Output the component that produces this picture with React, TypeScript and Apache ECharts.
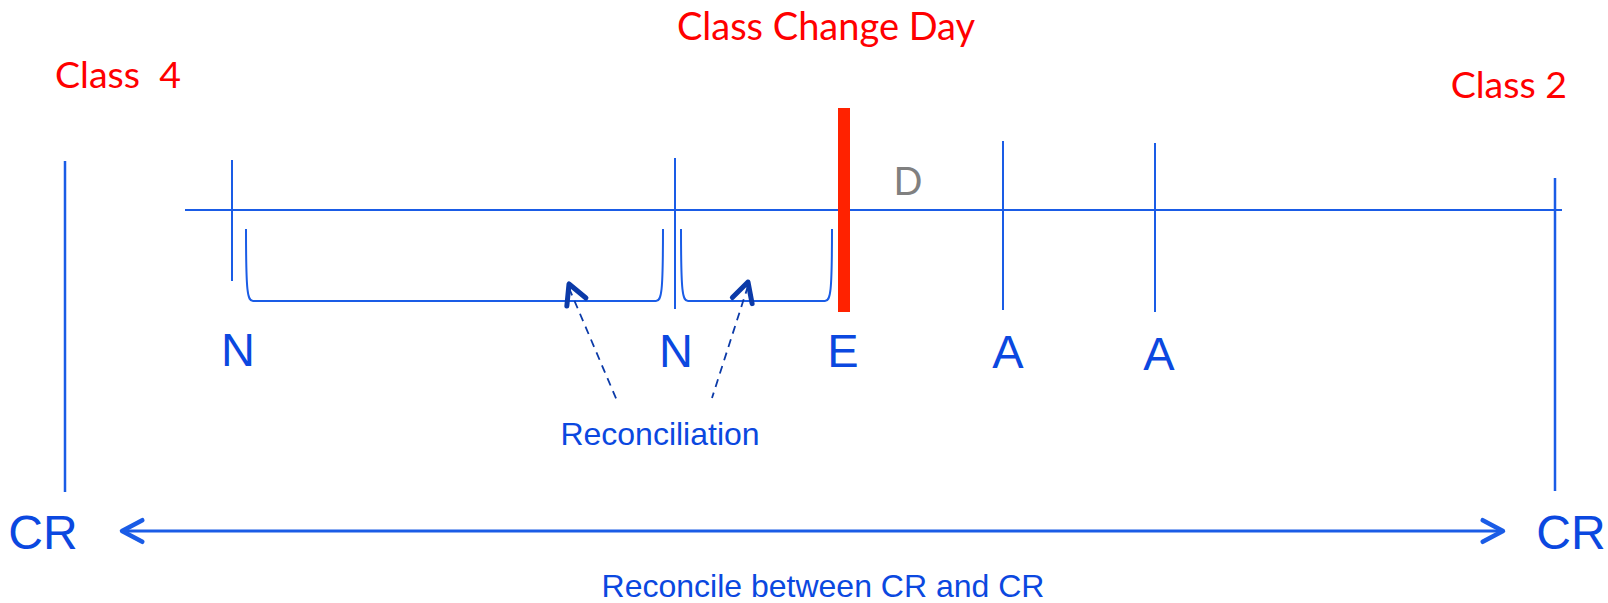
import React, { useEffect, useRef } from 'react';
import * as echarts from 'echarts';

// ---- Diagram data (diagram units = pixels of the 1608 x 603 canvas) ----
const canvasWidth = 1608;
const canvasHeight = 603;

// main timeline
const timelineX = [185, 1562];
const timelineY = [210, 210];

// thin event ticks (N, N, A, A)
const tickX = [232, 675, 1003, 1155];
const tickTop = [160, 158, 141, 143];
const tickBottom = [281, 309, 310, 312];

// class change day bar (E)
const changeDayX = [844];
const changeDayTop = [108];
const changeDayBottom = [312];

// event letters
const eventLabels = ['N', 'N', 'E', 'A', 'A'];
const eventLabelX = [238, 676, 843, 1008, 1159];
const eventLabelY = [349, 350, 350, 351, 353];

// CR boundaries
const boundaryX = [65, 1555];
const boundaryTop = [161, 178];
const boundaryBottom = [492, 491];
const boundaryLabels = ['CR', 'CR'];
const boundaryLabelX = [43, 1571];
const boundaryLabelY = [532, 532];

// reconciliation brackets
const bracketStart = [246, 681];
const bracketEnd = [663, 832];
const bracketTop = [229, 229];
const bracketBottom = [301, 301];

// reconciliation callout arrows
const calloutTipX = [569, 748];
const calloutTipY = [284, 282];
const calloutTailX = [618, 712];
const calloutTailY = [403, 398];

// span arrow between CR and CR
const spanArrowX = [122, 1503];
const spanArrowY = [531, 531];

// red titles
const titleLabels = ['Class Change Day', 'Class  4', 'Class 2'];
const titleX = [826, 55, 1567];
const titleY = [25, 73, 83];

// other annotations
const noteLabels = ['D', 'Reconciliation', 'Reconcile between CR and CR'];
const noteX = [908, 660, 823];
const noteY = [180, 434, 586];

const LINE_BLUE = '#1a5ce6';
const TEXT_BLUE = '#0b48e0';
const DARK_BLUE = '#0b3aa8';
const RED = '#ff0000';
const BAR_RED = '#ff2200';

function segmentItem(stroke: string, width: number, dash?: number[]) {
  return (params: any, api: any) => {
    const a = api.coord([api.value(0), api.value(1)]);
    const b = api.coord([api.value(2), api.value(3)]);
    return {
      type: 'line',
      shape: { x1: a[0], y1: a[1], x2: b[0], y2: b[1] },
      style: { stroke, lineWidth: width, lineDash: dash, lineCap: 'butt' },
      silent: true,
    };
  };
}

function textItem(
  labels: string[],
  fontFamily: string,
  fontSizes: number[],
  fill: string,
  aligns: string[]
) {
  return (params: any, api: any) => {
    const p = api.coord([api.value(0), api.value(1)]);
    const i = params.dataIndex;
    const fs = fontSizes[i] ?? fontSizes[0];
    return {
      type: 'text',
      x: p[0],
      y: p[1],
      style: {
        text: labels[i],
        fill,
        fontFamily,
        fontSize: fs,
        lineHeight: fs,
        align: aligns[i] ?? aligns[0],
        verticalAlign: 'middle',
      },
      silent: true,
    };
  };
}

function arrowHead(tip: number[], toward: number[], len: number, angDeg: number) {
  const dx = toward[0] - tip[0];
  const dy = toward[1] - tip[1];
  const base = Math.atan2(dy, dx);
  const a = (angDeg * Math.PI) / 180;
  return [
    [tip[0] + len * Math.cos(base - a), tip[1] + len * Math.sin(base - a)],
    [tip[0], tip[1]],
    [tip[0] + len * Math.cos(base + a), tip[1] + len * Math.sin(base + a)],
  ];
}

export default function App() {
  const ref = useRef<HTMLDivElement>(null);

  useEffect(() => {
    if (!ref.current) return;
    const chart = echarts.init(ref.current, undefined, { renderer: 'svg' });

    const segments = [
      [timelineX[0], timelineY[0], timelineX[1], timelineY[1]],
      ...tickX.map((x, i) => [x, tickTop[i], x, tickBottom[i]]),
    ];
    const boundaries = boundaryX.map((x, i) => [x, boundaryTop[i], x, boundaryBottom[i]]);
    const changeDay = changeDayX.map((x, i) => [x, changeDayTop[i], x, changeDayBottom[i]]);

    const option: any = {
      animation: false,
      backgroundColor: '#ffffff',
      grid: { left: 0, right: 0, top: 0, bottom: 0 },
      xAxis: { type: 'value', min: 0, max: canvasWidth, show: false },
      yAxis: { type: 'value', min: 0, max: canvasHeight, inverse: true, show: false },
      series: [
        {
          type: 'custom',
          name: 'timeline',
          data: segments,
          renderItem: segmentItem(LINE_BLUE, 2),
        },
        {
          type: 'custom',
          name: 'boundaries',
          data: boundaries,
          renderItem: segmentItem(LINE_BLUE, 2.5),
        },
        {
          type: 'custom',
          name: 'brackets',
          data: bracketStart.map((s, i) => [s, bracketTop[i], bracketEnd[i], bracketBottom[i]]),
          renderItem: (params: any, api: any) => {
            const a = api.coord([api.value(0), api.value(1)]);
            const b = api.coord([api.value(2), api.value(3)]);
            const lx = a[0], ty = a[1], rx = b[0], by = b[1];
            const d =
              `M${lx},${ty} C${lx},${by - 8} ${lx + 1.5},${by} ${lx + 7},${by} ` +
              `L${rx - 7},${by} C${rx - 1.5},${by} ${rx},${by - 8} ${rx},${ty}`;
            return {
              type: 'path',
              shape: { pathData: d },
              style: { fill: 'none', stroke: LINE_BLUE, lineWidth: 2 },
              silent: true,
            };
          },
        },
        {
          type: 'custom',
          name: 'changeDay',
          data: changeDay,
          renderItem: segmentItem(BAR_RED, 12),
        },
        {
          type: 'custom',
          name: 'callouts',
          data: calloutTipX.map((x, i) => [x, calloutTipY[i], calloutTailX[i], calloutTailY[i]]),
          renderItem: (params: any, api: any) => {
            const tip = api.coord([api.value(0), api.value(1)]);
            const tail = api.coord([api.value(2), api.value(3)]);
            return {
              type: 'group',
              children: [
                {
                  type: 'line',
                  shape: { x1: tip[0], y1: tip[1] + 4, x2: tail[0], y2: tail[1] },
                  style: { stroke: DARK_BLUE, lineWidth: 1.8, lineDash: [8, 6] },
                },
                {
                  type: 'polyline',
                  shape: { points: arrowHead(tip, tail, 22, 28) },
                  style: {
                    fill: 'none',
                    stroke: DARK_BLUE,
                    lineWidth: 5,
                    lineCap: 'round',
                    lineJoin: 'round',
                  },
                },
              ],
              silent: true,
            };
          },
        },
        {
          type: 'custom',
          name: 'span',
          data: [[spanArrowX[0], spanArrowY[0], spanArrowX[1], spanArrowY[1]]],
          renderItem: (params: any, api: any) => {
            const a = api.coord([api.value(0), api.value(1)]);
            const b = api.coord([api.value(2), api.value(3)]);
            return {
              type: 'group',
              children: [
                {
                  type: 'line',
                  shape: { x1: a[0] + 2, y1: a[1], x2: b[0] - 2, y2: b[1] },
                  style: { stroke: LINE_BLUE, lineWidth: 3 },
                },
                {
                  type: 'polyline',
                  shape: { points: arrowHead(a, b, 23, 28) },
                  style: { fill: 'none', stroke: LINE_BLUE, lineWidth: 4.5, lineCap: 'round', lineJoin: 'round' },
                },
                {
                  type: 'polyline',
                  shape: { points: arrowHead(b, a, 23, 28) },
                  style: { fill: 'none', stroke: LINE_BLUE, lineWidth: 4.5, lineCap: 'round', lineJoin: 'round' },
                },
              ],
              silent: true,
            };
          },
        },
        {
          type: 'custom',
          name: 'eventLabels',
          data: eventLabelX.map((x, i) => [x, eventLabelY[i]]),
          renderItem: textItem(eventLabels, 'Liberation Sans, Arial, sans-serif', [47], TEXT_BLUE, ['center']),
        },
        {
          type: 'custom',
          name: 'boundaryLabels',
          data: boundaryLabelX.map((x, i) => [x, boundaryLabelY[i]]),
          renderItem: textItem(boundaryLabels, 'Liberation Sans, Arial, sans-serif', [48], TEXT_BLUE, ['center']),
        },
        {
          type: 'custom',
          name: 'titles',
          data: titleX.map((x, i) => [x, titleY[i]]),
          renderItem: textItem(titleLabels, 'Lato, sans-serif', [38, 37.5, 37.5], RED, ['center', 'left', 'right']),
        },
        {
          type: 'custom',
          name: 'noteD',
          data: [[noteX[0], noteY[0]]],
          renderItem: textItem([noteLabels[0]], 'Lato, sans-serif', [38], '#808080', ['center']),
        },
        {
          type: 'custom',
          name: 'notes',
          data: [[noteX[1], noteY[1]], [noteX[2], noteY[2]]],
          renderItem: textItem([noteLabels[1], noteLabels[2]], 'Liberation Sans, Arial, sans-serif', [32, 32], TEXT_BLUE, ['center']),
        },
      ],
    };

    chart.setOption(option);
    return () => chart.dispose();
  }, []);

  return (
    <div
      ref={ref}
      style={{ position: 'fixed', left: 0, top: 0, width: canvasWidth, height: canvasHeight }}
    />
  );
}
